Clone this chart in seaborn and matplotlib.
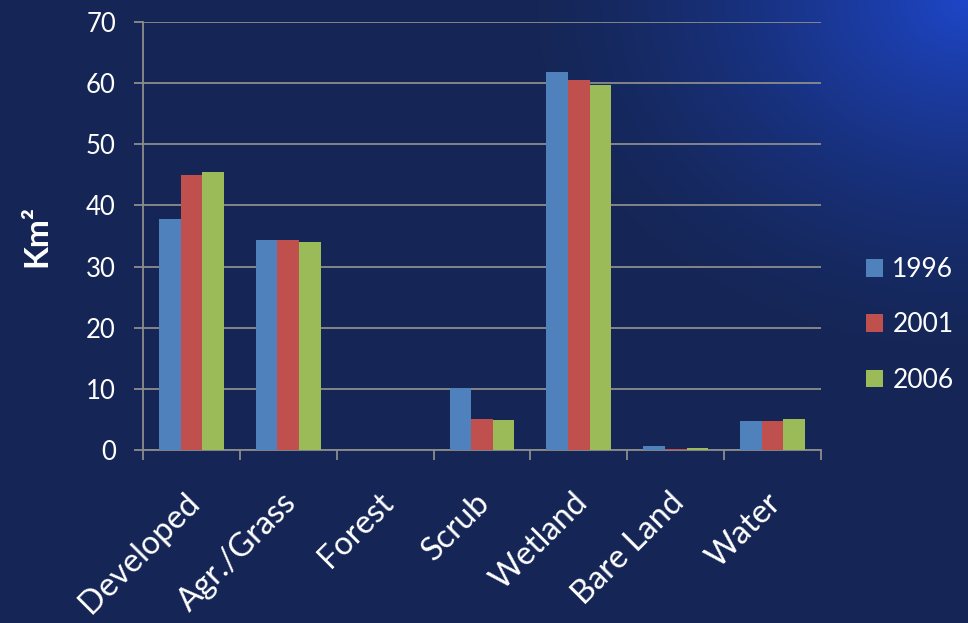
import numpy as np
import pandas as pd
import matplotlib
matplotlib.use("Agg")
import matplotlib.pyplot as plt
import matplotlib.transforms as mtransforms
import seaborn as sns
from matplotlib.patches import Patch

categories = ["Developed", "Agr./Grass", "Forest", "Scrub", "Wetland", "Bare Land", "Water"]
years = ["1996", "2001", "2006"]
v1996 = [37.8, 34.4, 0.0, 10.1, 61.8, 0.6, 4.7]
v2001 = [45.0, 34.3, 0.0, 5.0, 60.5, 0.1, 4.7]
v2006 = [45.4, 34.0, 0.0, 4.9, 59.7, 0.4, 5.0]
colors = ["#4F81BD", "#C0504D", "#9BBB59"]
yticks = [0, 10, 20, 30, 40, 50, 60, 70]

rows = []
for yr, vals in zip(years, [v1996, v2001, v2006]):
    for c, v in zip(categories, vals):
        rows.append({"Category": c, "Year": yr, "Km2": v})
df = pd.DataFrame(rows)

sns.set_theme(style="white")
plt.rcParams["font.family"] = ["Lato", "DejaVu Sans"]

W, H = 968, 623
fig = plt.figure(figsize=(W / 100, H / 100), dpi=100)

# background gradient
bg = fig.add_axes([0, 0, 1, 1])
yy, xx = np.mgrid[0:H, 0:W]
base = np.array([21, 38, 86]) / 255.0
glow = np.array([30, 70, 200]) / 255.0
d = np.sqrt(((xx - W) / 450.0) ** 2 + ((yy) / 360.0) ** 2)
t = np.clip(1 - d, 0, 1) ** 1.5
img = base[None, None, :] * (1 - t[..., None]) + glow[None, None, :] * t[..., None]
bg.imshow(img, aspect="auto", extent=[0, 1, 0, 1], origin="upper")
bg.axis("off")

ax = fig.add_axes([143 / W, 1 - 450 / H, (821 - 143) / W, (450 - 22) / H])
ax.patch.set_alpha(0)

sns.barplot(data=df, x="Category", y="Km2", hue="Year", palette=colors,
            saturation=1, width=0.67, linewidth=0, ax=ax, legend=False, zorder=3)

gridc = "#8c8c8c"
ax.set_ylim(0, 70)
ax.set_xlim(-0.5, len(categories) - 0.5)
ax.set_yticks(yticks)
ax.set_yticklabels([str(v) for v in yticks], color="white", fontsize=18.5)
ax.yaxis.grid(True, color=gridc, linewidth=1.3, zorder=0)
ax.set_axisbelow(True)
for s in ["top", "right"]:
    ax.spines[s].set_visible(False)
for s in ["left", "bottom"]:
    ax.spines[s].set_color(gridc)
    ax.spines[s].set_linewidth(1.3)

ax.set_xticks(range(len(categories)))
ax.set_xticklabels(categories, rotation=45, ha="right", rotation_mode="anchor",
                   color="white", fontsize=23.5)
ax.tick_params(axis="x", which="major", bottom=True, length=0, pad=27)
ax.set_xticks(np.arange(-0.5, len(categories), 1.0), minor=True)
ax.tick_params(axis="x", which="minor", bottom=True, length=7, width=1.3,
               color=gridc, direction="out")
ax.tick_params(axis="y", which="major", left=True, length=6.5, width=1.3,
               color=gridc, direction="out", pad=13)
shift = mtransforms.ScaledTranslation(-7 / 100, 0, fig.dpi_scale_trans)
for lbl in ax.get_xticklabels():
    lbl.set_transform(lbl.get_transform() + shift)

ax.set_xlabel("")
ax.set_ylabel("Km²", color="white", fontsize=24, fontweight="bold")
ax.yaxis.set_label_coords(-0.135, 0.5)

handles = [Patch(facecolor=c, edgecolor="none") for c in colors]
fig.legend(handles, years, loc="center left", bbox_to_anchor=(866 / W, 1 - 325 / H),
           frameon=False, fontsize=19, labelcolor="white", handlelength=0.65,
           handleheight=0.65, handletextpad=0.35, labelspacing=1.14,
           borderpad=0, borderaxespad=0)

fig.savefig("out.png", dpi=100)
